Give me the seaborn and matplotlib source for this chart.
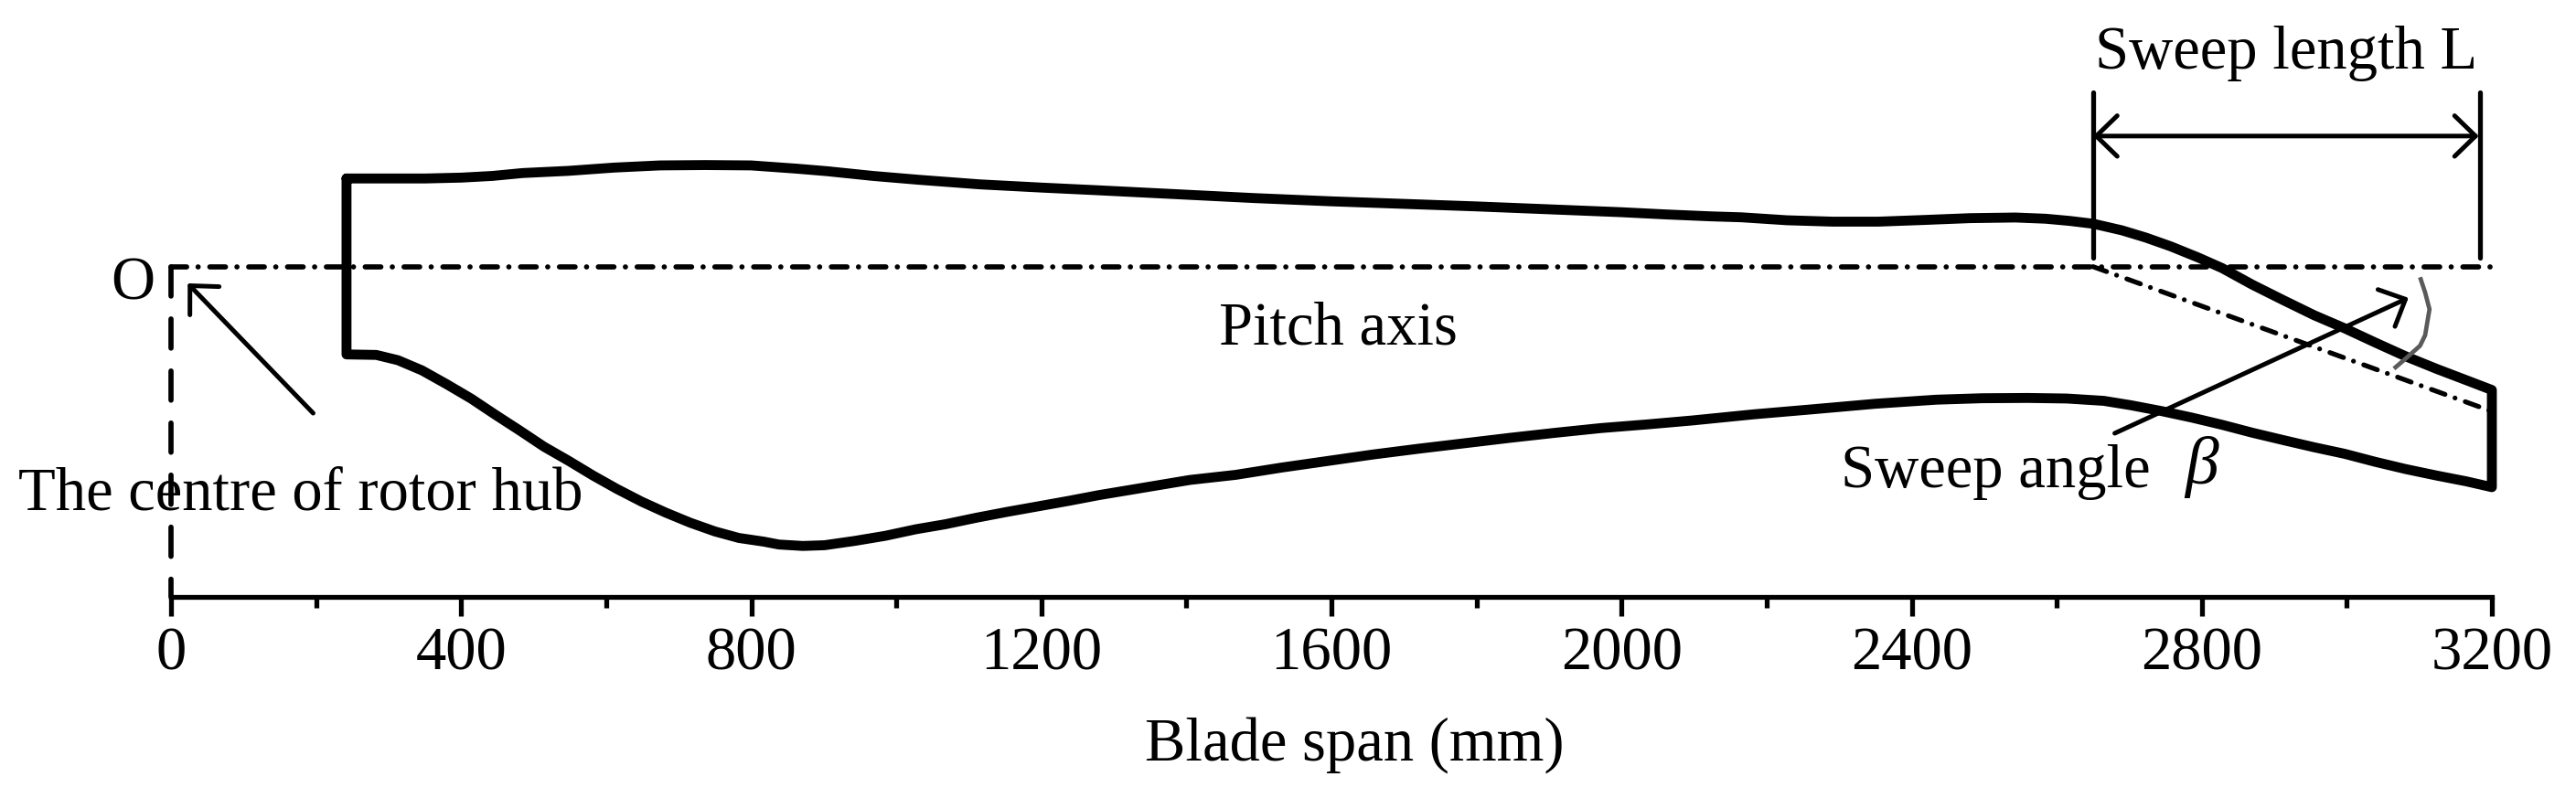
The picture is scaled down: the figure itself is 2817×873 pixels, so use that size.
import matplotlib
matplotlib.use("Agg")
import matplotlib.pyplot as plt
import seaborn as sns
import pandas as pd

# blade outline (mm)
upper_x = [242, 351, 401, 443, 485, 548, 611, 674, 737, 800, 863, 905, 968, 1031, 1115, 1199, 1283, 1367, 1493,
           1600, 1700, 1800, 1900, 2000, 2060, 2123, 2165, 2228, 2291, 2354, 2417, 2480, 2543, 2585, 2618, 2651,
           2690, 2723, 2757, 2795, 2828, 2870, 2912, 2955, 2997, 3040, 3082, 3124, 3166, 3200]
upper_y = [121.5, 121.5, 122.7, 125, 129, 132, 136.5, 139.5, 140, 139.5, 135, 131.5, 125, 119.7, 113.4, 109, 105,
           100.8, 94.5, 90, 86.5, 83, 79, 75, 72, 69.3, 68, 63.9, 62, 62, 64.3, 66.8, 67.7, 66, 63, 59,
           50, 40, 28, 12.6, -2, -25, -46, -67, -85, -105, -124, -141, -157, -170]
lower_x = [242, 283, 313, 346, 380, 414, 447, 481, 514, 548, 582, 615, 649, 682, 716, 750, 783, 817, 838, 871, 901,
           943, 985, 1027, 1068, 1111, 1153, 1195, 1237, 1279, 1321, 1363, 1405, 1468, 1531, 1594, 1657, 1720, 1783,
           1846, 1909, 1972, 2035, 2098, 2182, 2265, 2350, 2434, 2497, 2560, 2614, 2665, 2702, 2744, 2786, 2828,
           2870, 2912, 2955, 2997, 3039, 3081, 3124, 3165, 3200]
lower_y = [-121, -121.7, -129, -143, -162, -182, -204, -226, -248, -267.5, -288, -306.5, -324, -339, -353, -365, -374,
           -379, -383, -385, -384, -378, -371, -362, -355, -346, -338, -330.5, -323, -315, -308, -301, -294, -287,
           -277, -268, -259, -251, -243.5, -236, -229, -222.5, -217.5, -212, -203.6, -196.5, -189, -183.4, -181.4,
           -181, -181.8, -185, -191, -199, -208, -218, -229, -239, -249, -258, -269, -279, -288, -296, -304]
pitch_x = [0, 3200]
pitch_y = [0, 0]
swept_x = [2650, 3200]
swept_y = [0, -199.5]
hub_x = [0, 0]
hub_y = [0, -455.6]
arc_x = [3101, 3108, 3114, 3108, 3101, 3082, 3065]
arc_y = [-14.6, -35.7, -58.7, -94.5, -109, -126, -140.6]
sweep_start, sweep_end = 2650, 3184
xticks_major = [0, 400, 800, 1200, 1600, 2000, 2400, 2800, 3200]
xticks_minor = [200, 600, 1000, 1400, 1800, 2200, 2600, 3000]
xlabel = "Blade span (mm)"

sns.set_theme(style="white")
plt.rcParams["font.family"] = ["Liberation Serif", "DejaVu Serif"]
W, H, DPI = 2817, 873, 100
fig = plt.figure(figsize=(W / DPI, H / DPI), dpi=DPI)
ax = fig.add_axes([187 / W, (873 - 653.3) / H, (2725 - 187) / W, 653.3 / H])
FS = 48
BLK = "black"


def line(x, y, lw, ls="-", color=BLK, cap="butt", z=3):
    df = pd.DataFrame({"x": x, "y": y})
    sns.lineplot(data=df, x="x", y="y", sort=False, estimator=None, ax=ax, color=color,
                 linewidth=lw, zorder=z, legend=False)
    ln = ax.lines[-1]
    ln.set_linestyle(ls)
    ln.set_clip_on(False)
    ln.set_solid_capstyle(cap)
    ln.set_dash_capstyle("round")
    ln.set_solid_joinstyle("round")
    return ln


outline_x = upper_x + lower_x[::-1] + [upper_x[0]]
outline_y = upper_y + lower_y[::-1] + [upper_y[0]]
line(outline_x, outline_y, 7.8, cap="round", z=4)

line(pitch_x, pitch_y, 4.1, ls=(0, (3, 2.2, 0.01, 2.25)))
line(swept_x, swept_y, 3.8, ls=(0, (3, 2.2, 0.01, 2.25)))
line(hub_x, hub_y, 4.1, ls=(0, (5.6, 4.4)))
line(arc_x, arc_y, 3.4, color="#5a5a5a", z=5)
line([sweep_start, sweep_start], [12, 240], 3.8, cap="round")
line([sweep_end, sweep_end], [12, 240], 3.8, cap="round")

arrow = dict(lw=3.6, color=BLK, shrinkA=0, shrinkB=0, mutation_scale=50, capstyle="round", joinstyle="round")
head = "head_length=0.33,head_width=0.32"
ax.annotate("", xy=(sweep_start, 180), xytext=(sweep_end - 2, 180),
            arrowprops=dict(arrowstyle="<->," + head, **arrow), annotation_clip=False)
ax.annotate("", xy=(23, -23), xytext=(196, -202),
            arrowprops=dict(arrowstyle="->," + head, **arrow), annotation_clip=False)
ax.annotate("", xy=(3085, -43), xytext=(2680, -229.7),
            arrowprops=dict(arrowstyle="->," + head, **arrow), annotation_clip=False)

txt = dict(fontsize=FS, color=BLK, clip_on=False)
ax.text(-52, -24, "O", ha="center", va="center", **txt)
ax.text(1609, -86, "Pitch axis", ha="center", va="center", **txt)
ax.text(-210, -335, "The centre of rotor hub", ha="left", va="baseline", **txt)
ax.text(2653, 273, "Sweep length L", ha="left", va="baseline", **txt)
ax.text(2302, -304, "Sweep angle", ha="left", va="baseline", **txt)
ax.text(2800, -276, "β", ha="center", va="center", fontstyle="italic", fontsize=53, color=BLK, clip_on=False)

ax.set_xlim(0, 3200)
ax.set_ylim(-455.6, 367.5)
ax.set_xticks(xticks_major)
ax.set_xticks(xticks_minor, minor=True)
ax.set_xticklabels([str(t) for t in xticks_major], fontsize=FS, color=BLK)
ax.set_yticks([])
ax.set_xlabel(xlabel, fontsize=FS, color=BLK, labelpad=27)
ax.xaxis.label.set_x(0.5098)
ax.set_ylabel("")
ax.tick_params(axis="x", which="major", direction="out", length=15, width=3.8, color=BLK, bottom=True, pad=8)
ax.tick_params(axis="x", which="minor", direction="out", length=8.6, width=3.8, color=BLK, bottom=True)
for s in ["top", "left", "right"]:
    ax.spines[s].set_visible(False)
ax.spines["bottom"].set_linewidth(3.8)
ax.spines["bottom"].set_color(BLK)
ax.patch.set_alpha(0)
fig.savefig("out.png", dpi=DPI, facecolor="white")
